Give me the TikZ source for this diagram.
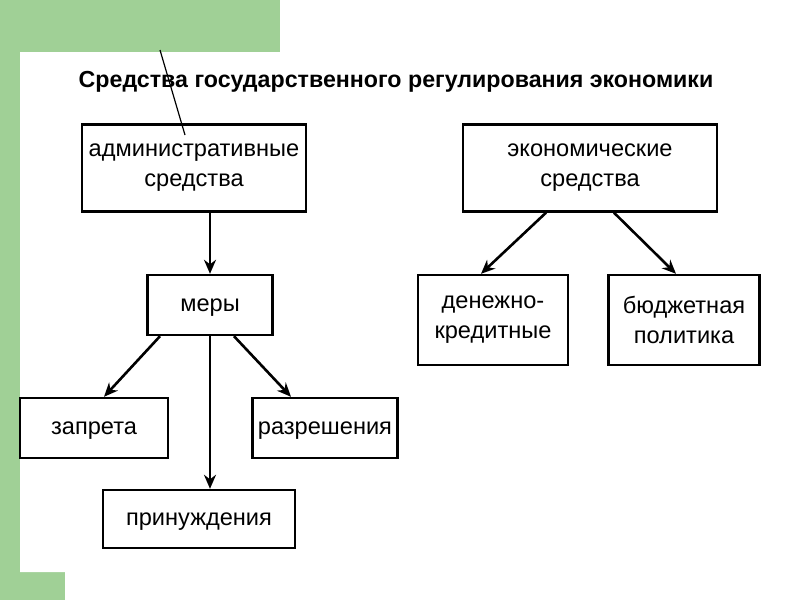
\documentclass[tikz,border=0pt]{standalone}
\usepackage{fontspec}
\setmainfont{Liberation Sans}
\usetikzlibrary{arrows.meta}
\definecolor{pagegreen}{RGB}{160,208,150}
\begin{document}
\begin{tikzpicture}[x=0.5pt, y=-0.5pt,
  main node/.style={draw, line width=1.2pt, align=center, font=\fontsize{11.8}{15}\selectfont, inner sep=0pt},
  one line/.style={text height=6pt, text depth=0pt},
  link/.style={line width=1.3pt, -{Stealth[length=7pt,width=6pt]}}]
\fill[pagegreen] (0,0) rectangle (800,600);
\fill[white] (20,52) -- (280,52) -- (280,0) -- (800,0) -- (800,600) -- (65,600) -- (65,572) -- (20,572) -- cycle;
\useasboundingbox (0,0) rectangle (800,600);
\draw[line width=0.6pt] (160,50) -- (185,135);

\node[font=\bfseries\fontsize{11.6}{14}\selectfont] (title) at (396,82) {Средства государственного регулирования экономики};

\node[main node, minimum width=112pt, minimum height=43.5pt] (adm)     at (194,168) {административные\\средства};
\node[main node, minimum width=127pt, minimum height=43.5pt] (econ)    at (590,168) {экономические\\средства};
\node[main node, one line, minimum width=62.5pt, minimum height=30pt]  (mery)    at (210,305) {меры};
\node[main node, minimum width=75pt, minimum height=45pt]    (credit)  at (493,320) {денежно-\\кредитные};
\node[main node, minimum width=75.5pt, minimum height=45pt]  (budget)  at (684,320) {бюджетная\\политика};
\node[main node, one line, minimum width=74pt, minimum height=30pt]    (zapret)  at (94,428)  {запрета};
\node[main node, one line, minimum width=72.5pt, minimum height=30pt]  (razresh) at (325,428) {разрешения};
\node[main node, one line, minimum width=96pt, minimum height=29pt]    (prinuzh) at (199,519) {принуждения};

\draw[link] (adm.south -| mery) -- (mery);
\draw[link] ([xshift=-25pt]mery.south) -- ([xshift=5pt]zapret.north);
\draw[link] ([xshift=12pt]mery.south) -- ([xshift=-17pt]razresh.north);
\draw[link] (mery.south) -- (mery.south |- prinuzh.north);
\draw[link] ([xshift=-22pt]econ.south) -- ([xshift=-6pt]credit.north);
\draw[link] ([xshift=12pt]econ.south) -- ([xshift=-4pt]budget.north);
\end{tikzpicture}
\end{document}
